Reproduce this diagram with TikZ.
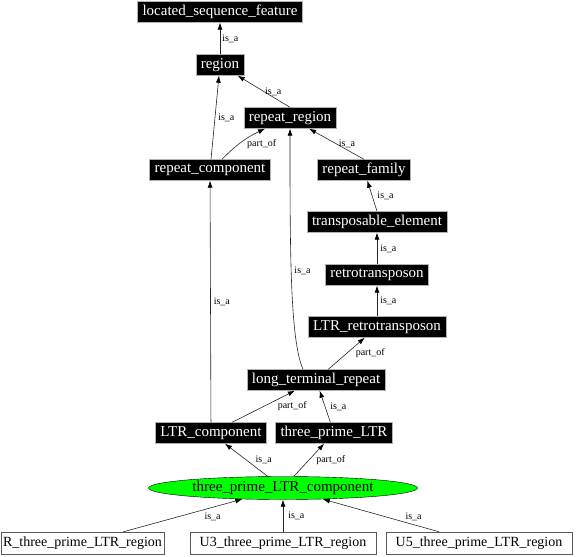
\documentclass[tikz,border=0pt]{standalone}
\usepackage{fontspec}
\setmainfont{Liberation Serif}
\usetikzlibrary{shapes.geometric,arrows.meta}

\begin{document}
\begin{tikzpicture}[x=1pt, y=-1pt]
    % Define styles
    \tikzstyle{term} = [rectangle, draw=gray!60, fill=black, text=white, font=\fontsize{15}{16}\selectfont, minimum height=21pt, inner xsep=5pt, inner ysep=0pt]
    \tikzstyle{leaf} = [rectangle, draw=gray!70!black, fill=white, text=black, font=\fontsize{14}{16}\selectfont, minimum width=186pt, minimum height=22pt, inner xsep=4pt, inner ysep=0pt]
    \tikzstyle{focus} = [ellipse, draw=black, fill=green, font=\fontsize{15}{16}\selectfont, minimum width=269pt, minimum height=23pt, inner sep=0pt]
    \tikzstyle{arrow} = [->, >={Latex[length=7pt,width=5pt,color=black]}, draw=gray!30!black, line width=0.6pt]
    \tikzstyle{lbl} = [font=\fontsize{10}{10}\selectfont, inner sep=1pt]

    \useasboundingbox (0,0) rectangle (576,557);

    % Upper part of the ontology
    \node (lsf) [term] at (220,12) {located\_sequence\_feature};
    \node (region) [term] at (220,65) {region};
    \node (rreg) [term] at (290,118) {repeat\_region};
    \node (rcomp) [term] at (210,170) {repeat\_component};
    \node (rfam) [term] at (364,170) {repeat\_family};

    % Right column
    \node (te) [term] at (377,222) {transposable\_element};
    \node (retro) [term] at (377,275) {retrotransposon};
    \node (ltrr) [term] at (377,327) {LTR\_retrotransposon};

    % Lower part
    \node (ltr) [term] at (316,380) {long\_terminal\_repeat};
    \node (ltrc) [term] at (211,433) {LTR\_component};
    \node (tpltr) [term] at (334,433) {three\_prime\_LTR};
    \node (tplc) [focus] at (283,488) {three\_prime\_LTR\_component};

    % Bottom row
    \node (rreg3) [leaf, minimum width=161pt, inner xsep=2pt] at (82.5,543) {R\_three\_prime\_LTR\_region};
    \node (u3reg) [leaf] at (283,543) {U3\_three\_prime\_LTR\_region};
    \node (u5reg) [leaf] at (479,543) {U5\_three\_prime\_LTR\_region};

    % Arrows - child to parent
    \draw [arrow] (region) -- node[lbl, anchor=west, xshift=1pt] {is\_a} (lsf);
    \draw [arrow] (rreg.north) -- node[lbl, anchor=west] {is\_a} (region);
    \draw [arrow] (rcomp) -- node[lbl, anchor=west, xshift=2pt] {is\_a} (region);
    \draw [arrow] ([xshift=12pt]rcomp.north) to[bend left=10] node[lbl, anchor=west, xshift=4pt, yshift=-2pt] {part\_of} ([xshift=-25pt]rreg.south);
    \draw [arrow] (rfam.north) -- node[lbl, anchor=west, xshift=1pt] {is\_a} (rreg);
    \draw [arrow] ([xshift=-13pt]ltr.north) .. controls (290,340) and (290,250) .. node[lbl, pos=0.55, anchor=west, xshift=2pt] {is\_a} (rreg.south);
    \draw [arrow] (te.north) -- node[lbl, anchor=west, xshift=4pt] {is\_a} (rfam);
    \draw [arrow] (retro) -- node[lbl, anchor=west, xshift=2pt] {is\_a} (te);
    \draw [arrow] (ltrr) -- node[lbl, anchor=west, xshift=2pt] {is\_a} (retro);
    \draw [arrow] (ltr) -- node[lbl, anchor=west, xshift=8pt] {part\_of} (ltrr);
    \draw [arrow] (ltrc) -- node[lbl, anchor=west, xshift=2pt] {is\_a} (rcomp);
    \draw [arrow] (ltrc) -- node[lbl, anchor=west, xshift=13pt] {part\_of} (ltr);
    \draw [arrow] (tpltr) -- node[lbl, anchor=west, xshift=4pt] {is\_a} (ltr);
    \draw [arrow] (tplc) -- node[lbl, anchor=west, xshift=8pt] {is\_a} (ltrc);
    \draw [arrow] (tplc) -- node[lbl, anchor=west, xshift=6pt] {part\_of} (tpltr);
    \draw [arrow] (rreg3) -- node[lbl, pos=0.75, anchor=north, yshift=-4pt] {is\_a} (tplc);
    \draw [arrow] (u3reg) -- node[lbl, anchor=west, xshift=4pt] {is\_a} (tplc);
    \draw [arrow] (u5reg) -- node[lbl, pos=0.3, anchor=south west] {is\_a} (tplc);
\end{tikzpicture}
\end{document}
